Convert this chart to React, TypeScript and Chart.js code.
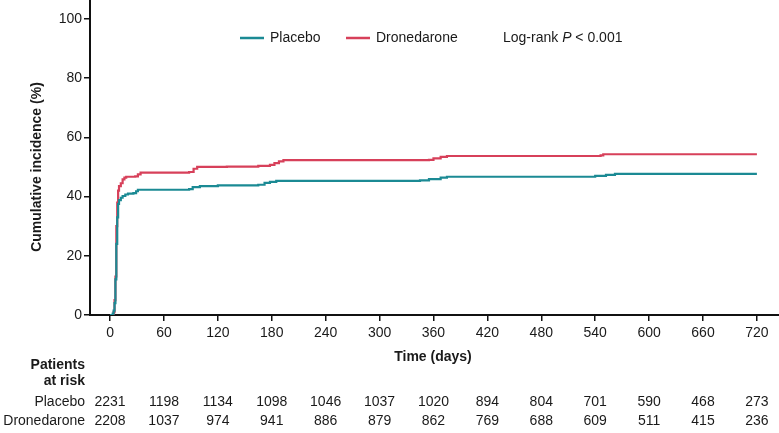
import React, { useEffect, useRef } from "react";
import { Chart, registerables } from "chart.js";

Chart.register(...registerables);

const placeboDays = [0, 3, 4, 5, 6, 7, 8, 9, 10, 12, 14, 17, 20, 26, 29, 31, 88, 92, 100, 120, 165, 172, 178, 185, 345, 355, 368, 375, 540, 552, 562, 720];
const placeboInc = [0, 0.5, 1.5, 4, 12, 24, 33, 37.5, 38.8, 39.6, 40.2, 40.7, 41.0, 41.2, 41.8, 42.3, 42.5, 43.2, 43.5, 43.8, 44.0, 44.6, 45.0, 45.3, 45.5, 45.9, 46.4, 46.7, 47.0, 47.3, 47.7, 47.7];

const dronDays = [0, 4, 5, 6, 7, 8, 9, 10, 12, 14, 16, 18, 28, 31, 34, 88, 93, 97, 130, 165, 178, 183, 188, 193, 355, 360, 368, 375, 546, 549, 720];
const dronInc = [0, 1, 5, 13, 30, 38, 42, 43.5, 44.5, 45.8, 46.4, 46.7, 46.8, 47.5, 48.1, 48.3, 49.4, 50.0, 50.1, 50.4, 50.7, 51.3, 51.9, 52.3, 52.4, 52.9, 53.4, 53.7, 53.9, 54.3, 54.3];

const xTicks = [0, 60, 120, 180, 240, 300, 360, 420, 480, 540, 600, 660, 720];
const yTicks = [0, 20, 40, 60, 80, 100];

const riskPlacebo = [2231, 1198, 1134, 1098, 1046, 1037, 1020, 894, 804, 701, 590, 468, 273];
const riskDron = [2208, 1037, 974, 941, 886, 879, 862, 769, 688, 609, 511, 415, 236];

const seriesNames = ["Placebo", "Dronedarone"];
const TEAL = "#1b8a94";
const RED = "#d7405a";
const FONT = '"Liberation Sans", Arial, sans-serif';
const TXT = "#1a1a1a";

const textPlugin = {
  id: "kmText",
  afterDraw(chart: any) {
    const ctx = chart.ctx as CanvasRenderingContext2D;
    const xs = chart.scales.x;
    ctx.save();
    ctx.fillStyle = TXT;
    ctx.textBaseline = "middle";

    // Y title
    ctx.save();
    ctx.translate(37, 167);
    ctx.rotate(-Math.PI / 2);
    ctx.font = `bold 14px ${FONT}`;
    ctx.textAlign = "center";
    ctx.fillText("Cumulative incidence (%)", 0, 0);
    ctx.restore();

    // X title
    ctx.font = `bold 14px ${FONT}`;
    ctx.textAlign = "center";
    ctx.fillText("Time (days)", 433, 357);

    // Risk table
    ctx.textAlign = "right";
    ctx.fillText("Patients", 85, 365);
    ctx.fillText("at risk", 85, 381);
    ctx.font = `14px ${FONT}`;
    ctx.fillText(seriesNames[0], 85, 402);
    ctx.fillText(seriesNames[1], 85, 421);
    ctx.textAlign = "center";
    xTicks.forEach((t, i) => {
      const px = xs.getPixelForValue(t);
      ctx.fillText(String(riskPlacebo[i]), px, 402);
      ctx.fillText(String(riskDron[i]), px, 421);
    });

    // Legend
    const ly = 38;
    ctx.lineWidth = 2.5;
    ctx.strokeStyle = TEAL;
    ctx.beginPath();
    ctx.moveTo(240, ly);
    ctx.lineTo(264, ly);
    ctx.stroke();
    ctx.strokeStyle = RED;
    ctx.beginPath();
    ctx.moveTo(346, ly);
    ctx.lineTo(370, ly);
    ctx.stroke();
    ctx.textAlign = "left";
    ctx.font = `14px ${FONT}`;
    ctx.fillText(seriesNames[0], 270, ly);
    ctx.fillText(seriesNames[1], 376, ly);

    let x = 503;
    const a = "Log-rank ";
    ctx.fillText(a, x, ly);
    x += ctx.measureText(a).width;
    ctx.font = `italic 14px ${FONT}`;
    ctx.fillText("P", x, ly);
    x += ctx.measureText("P").width;
    ctx.font = `14px ${FONT}`;
    ctx.fillText(" < 0.001", x, ly);
    ctx.restore();
  },
};

export default function App() {
  const ref = useRef<HTMLCanvasElement>(null);
  useEffect(() => {
    if (!ref.current) return;
    const chart = new Chart(ref.current, {
      type: "line",
      data: {
        datasets: [
          {
            label: seriesNames[0],
            data: placeboDays.map((d, i) => ({ x: d, y: placeboInc[i] })),
            borderColor: TEAL,
            borderWidth: 2.2,
            pointRadius: 0,
            stepped: true,
            fill: false,
          },
          {
            label: seriesNames[1],
            data: dronDays.map((d, i) => ({ x: d, y: dronInc[i] })),
            borderColor: RED,
            borderWidth: 2.2,
            pointRadius: 0,
            stepped: true,
            fill: false,
          },
        ],
      },
      options: {
        animation: false,
        responsive: false,
        devicePixelRatio: 1,
        layout: { padding: 0 },
        plugins: { legend: { display: false }, tooltip: { enabled: false } },
        scales: {
          x: {
            type: "linear",
            min: -22.3,
            max: 744.6,
            afterBuildTicks: (s: any) => {
              s.ticks = xTicks.map((v) => ({ value: v }));
            },
            afterFit: (s: any) => {
              s.height = 118;
              s.paddingLeft = 0;
              s.paddingRight = 0;
              s.paddingTop = 0;
              s.paddingBottom = 0;
            },
            grid: { drawOnChartArea: false, drawTicks: true, tickLength: 6, color: "#111", lineWidth: 1.5 },
            border: { display: true, color: "#111", width: 2 },
            ticks: { font: { family: FONT, size: 14 }, color: TXT, padding: 4, maxRotation: 0, autoSkip: false },
          },
          y: {
            type: "linear",
            min: 0,
            max: 106.4,
            afterBuildTicks: (s: any) => {
              s.ticks = yTicks.map((v) => ({ value: v }));
            },
            afterFit: (s: any) => {
              s.width = 90;
              s.paddingLeft = 0;
              s.paddingRight = 0;
              s.paddingTop = 0;
              s.paddingBottom = 0;
            },
            grid: { drawOnChartArea: false, drawTicks: true, tickLength: 6, color: "#111", lineWidth: 1.5 },
            border: { display: true, color: "#111", width: 2 },
            ticks: { font: { family: FONT, size: 14 }, color: TXT, padding: 2, autoSkip: false },
          },
        },
      },
      plugins: [textPlugin],
    });
    return () => chart.destroy();
  }, []);
  return (
    <div style={{ position: "absolute", left: 0, top: 0, width: 779, height: 433, background: "#fff" }}>
      <canvas ref={ref} width={779} height={433} style={{ display: "block" }} />
    </div>
  );
}
